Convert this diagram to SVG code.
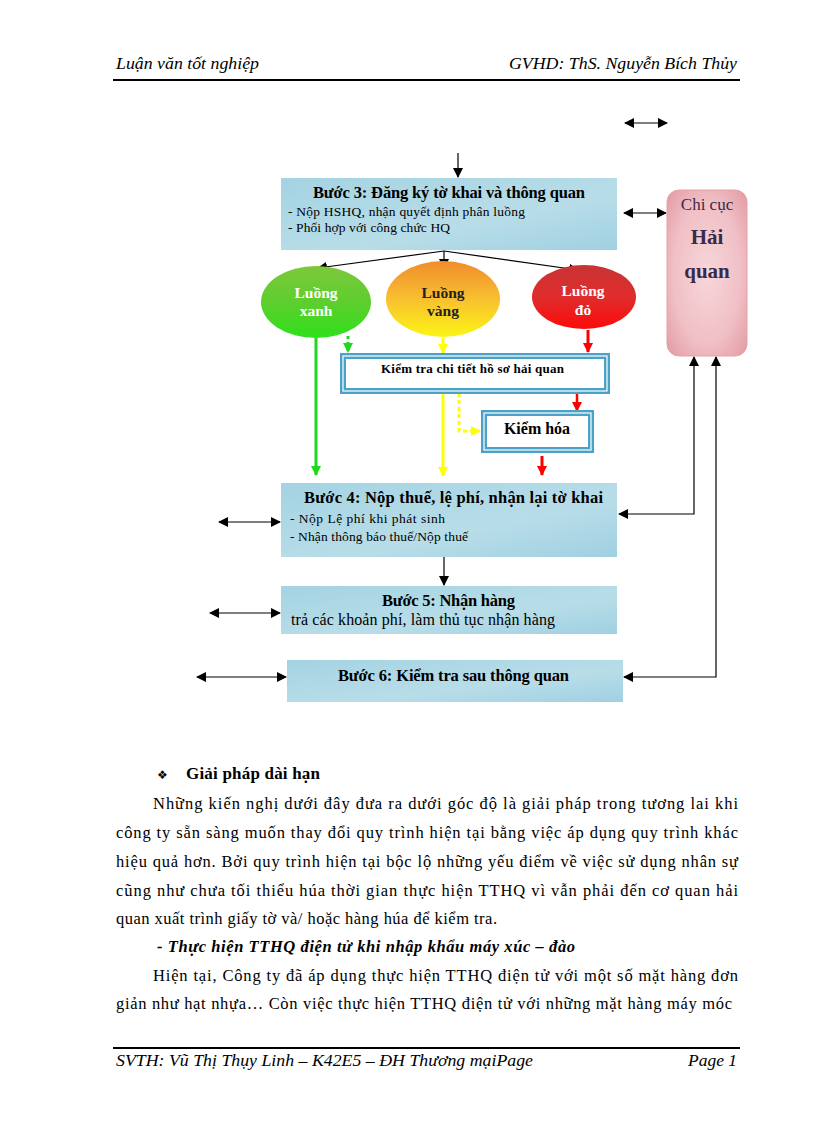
<svg xmlns="http://www.w3.org/2000/svg" width="816" height="1123" viewBox="0 0 816 1123">
<defs>
<linearGradient id="gBlue" x1="0" y1="0" x2="1" y2="1">
<stop offset="0" stop-color="#a4d3e3"/><stop offset="0.6" stop-color="#b8dde8"/><stop offset="1" stop-color="#a0d0e2"/>
</linearGradient>
<radialGradient id="gPink" cx="0.5" cy="0.5" r="0.7">
<stop offset="0" stop-color="#f7d6da"/><stop offset="0.6" stop-color="#f0c0c6"/><stop offset="1" stop-color="#e39aa2"/>
</radialGradient>
<linearGradient id="gGreen" x1="0" y1="0" x2="0" y2="1">
<stop offset="0" stop-color="#7cc83c"/><stop offset="0.5" stop-color="#5ece2e"/><stop offset="1" stop-color="#2ee01c"/>
</linearGradient>
<linearGradient id="gYellow" x1="0" y1="0" x2="0" y2="1">
<stop offset="0" stop-color="#f08c2c"/><stop offset="0.5" stop-color="#f8c030"/><stop offset="1" stop-color="#fcf414"/>
</linearGradient>
<linearGradient id="gRed" x1="0" y1="0" x2="0" y2="1">
<stop offset="0" stop-color="#c83434"/><stop offset="0.5" stop-color="#e02c2c"/><stop offset="1" stop-color="#fc0a0a"/>
</linearGradient>
<marker id="ah" viewBox="0 0 10 10" refX="9" refY="5" markerWidth="10" markerHeight="10" markerUnits="userSpaceOnUse" orient="auto-start-reverse">
<path d="M0,0 L10,5 L0,10 z" fill="#000"/>
</marker>
<marker id="ahG" viewBox="0 0 10 10" refX="9" refY="5" markerWidth="10" markerHeight="10" markerUnits="userSpaceOnUse" orient="auto">
<path d="M0,0 L10,5 L0,10 z" fill="#1ed81e"/>
</marker>
<marker id="ahY" viewBox="0 0 10 10" refX="9" refY="5" markerWidth="10" markerHeight="10" markerUnits="userSpaceOnUse" orient="auto">
<path d="M0,0 L10,5 L0,10 z" fill="#ffff00"/>
</marker>
<marker id="ahR" viewBox="0 0 10 10" refX="9" refY="5" markerWidth="10" markerHeight="10" markerUnits="userSpaceOnUse" orient="auto">
<path d="M0,0 L10,5 L0,10 z" fill="#ff0000"/>
</marker>
</defs>
<style>
.hdr{font-family:"Liberation Serif",serif;font-style:italic;font-size:17px;fill:#000}
.step{fill:url(#gBlue)}
.title{font-family:"Liberation Serif",serif;font-weight:bold;font-size:16.5px;fill:#000}
.sub{font-family:"Liberation Serif",serif;font-size:13.5px;fill:#000}
.sub2{font-family:"Liberation Serif",serif;font-size:16px;fill:#000}
.ell{font-family:"Liberation Serif",serif;font-weight:bold;font-size:15.5px}
.body{font-family:"Liberation Serif",serif;font-size:16.5px;fill:#000}
.blk{stroke:#000;stroke-width:1.2;fill:none}
.dbl{fill:#fff;stroke:#4aa3c6;stroke-width:6}
.dblin{fill:none;stroke:#fff;stroke-width:1.2}
</style>
<rect x="0" y="0" width="816" height="1123" fill="#fff"/>

<g id="header">
<text class="hdr" x="116" y="69" textLength="143" lengthAdjust="spacingAndGlyphs">Luận văn tốt nghiệp</text>
<text class="hdr" x="509" y="69" textLength="228" lengthAdjust="spacingAndGlyphs">GVHD: ThS. Nguyễn Bích Thủy</text>
<line x1="113" y1="80" x2="740" y2="80" stroke="#000" stroke-width="2"/>
</g>

<g id="connectors">
<line class="blk" x1="625" y1="123" x2="667" y2="123" marker-start="url(#ah)" marker-end="url(#ah)"/>
<line class="blk" x1="458" y1="153" x2="458" y2="177" marker-end="url(#ah)"/>
<line class="blk" x1="624" y1="213" x2="666" y2="213" marker-start="url(#ah)" marker-end="url(#ah)"/>
<line class="blk" x1="444" y1="251" x2="318" y2="268" marker-end="url(#ah)"/>
<line class="blk" x1="444" y1="251" x2="444" y2="268" marker-end="url(#ah)"/>
<line class="blk" x1="444" y1="251" x2="578" y2="270" marker-end="url(#ah)"/>
<line x1="316" y1="338" x2="316" y2="475" stroke="#1ed81e" stroke-width="3" marker-end="url(#ahG)"/>
<line x1="348" y1="336" x2="348" y2="352" stroke="#1ed81e" stroke-width="3" stroke-dasharray="3,3" marker-end="url(#ahG)"/>
<line x1="443" y1="338" x2="443" y2="353" stroke="#ffff00" stroke-width="3" marker-end="url(#ahY)"/>
<line x1="588" y1="330" x2="588" y2="352" stroke="#ff0000" stroke-width="3" marker-end="url(#ahR)"/>
<line x1="443" y1="393" x2="443" y2="476" stroke="#ffff00" stroke-width="3" marker-end="url(#ahY)"/>
<polyline points="459,393 459,431 480,431" fill="none" stroke="#ffff00" stroke-width="3" stroke-dasharray="4,3" marker-end="url(#ahY)"/>
<line x1="577" y1="393" x2="577" y2="411" stroke="#ff0000" stroke-width="2.5" marker-end="url(#ahR)"/>
<line x1="542" y1="456" x2="542" y2="475" stroke="#ff0000" stroke-width="3" marker-end="url(#ahR)"/>
<line class="blk" x1="219" y1="522" x2="280" y2="522" marker-start="url(#ah)" marker-end="url(#ah)"/>
<polyline class="blk" points="694,357 694,514 619,514" marker-start="url(#ah)" marker-end="url(#ah)"/>
<polyline class="blk" points="716,357 716,677 624,677" marker-start="url(#ah)" marker-end="url(#ah)"/>
<line class="blk" x1="444" y1="557" x2="444" y2="585" marker-end="url(#ah)"/>
<line class="blk" x1="210" y1="613" x2="280" y2="613" marker-start="url(#ah)" marker-end="url(#ah)"/>
<line class="blk" x1="197" y1="677" x2="286" y2="677" marker-start="url(#ah)" marker-end="url(#ah)"/>
</g>

<g id="step3">
<rect class="step" x="281" y="178" width="336" height="72"/>
<text class="title" x="313" y="198" textLength="272" lengthAdjust="spacing">Bước 3: Đăng ký tờ khai và thông quan</text>
<text class="sub" x="288" y="216" textLength="237" lengthAdjust="spacing">- Nộp HSHQ, nhận quyết định phân luồng</text>
<text class="sub" x="288" y="232" textLength="162" lengthAdjust="spacing">- Phối hợp với công chức HQ</text>
</g>

<g id="chicuc">
<rect x="667" y="190" width="80" height="166" rx="12" fill="url(#gPink)" stroke="#e8a0a8" stroke-width="1"/>
<text x="707" y="210" text-anchor="middle" font-family="Liberation Serif,serif" font-size="17" fill="#3a2a4a">Chi cục</text>
<text x="707" y="244" text-anchor="middle" font-family="Liberation Serif,serif" font-weight="bold" font-size="21" fill="#3a2a4a">Hải</text>
<text x="707" y="278" text-anchor="middle" font-family="Liberation Serif,serif" font-weight="bold" font-size="21" fill="#3a2a4a">quan</text>
</g>

<g id="luong-xanh">
<ellipse cx="316" cy="302" rx="55" ry="36" fill="url(#gGreen)"/>
<text class="ell" x="316" y="298" text-anchor="middle" fill="#fff">Luồng</text>
<text class="ell" x="316" y="316" text-anchor="middle" fill="#fff">xanh</text>
</g>
<g id="luong-vang">
<ellipse cx="443" cy="299" rx="57" ry="38" fill="url(#gYellow)"/>
<text class="ell" x="443" y="298" text-anchor="middle" fill="#222">Luồng</text>
<text class="ell" x="443" y="316" text-anchor="middle" fill="#222">vàng</text>
</g>
<g id="luong-do">
<ellipse cx="584" cy="297" rx="52" ry="32" fill="url(#gRed)"/>
<text class="ell" x="583" y="296" text-anchor="middle" fill="#fff">Luồng</text>
<text class="ell" x="583" y="315" text-anchor="middle" fill="#fff">đỏ</text>
</g>

<g id="kiemtra">
<rect class="dbl" x="343" y="356" width="264" height="35"/>
<rect class="dblin" x="343" y="356" width="264" height="35"/>
<text x="381" y="373" textLength="183" lengthAdjust="spacing" font-family="Liberation Serif,serif" font-weight="bold" font-size="13">Kiểm  tra chi tiết hồ sơ hải quan</text>
</g>

<g id="kiemhoa">
<rect class="dbl" x="484" y="413" width="107" height="37"/>
<rect class="dblin" x="484" y="413" width="107" height="37"/>
<text x="537" y="434" text-anchor="middle" font-family="Liberation Serif,serif" font-weight="bold" font-size="16">Kiểm hóa</text>
</g>

<g id="step4">
<rect class="step" x="281" y="483" width="336" height="74"/>
<text class="title" x="304" y="503" textLength="299" lengthAdjust="spacing">Bước 4: Nộp thuế, lệ phí, nhận lại tờ khai</text>
<text class="sub" x="290" y="523" textLength="155" lengthAdjust="spacing">- Nộp Lệ phí khi phát sinh</text>
<text class="sub" x="290" y="541" textLength="178" lengthAdjust="spacing">- Nhận thông báo thuế/Nộp thuế</text>
</g>

<g id="step5">
<rect class="step" x="281" y="586" width="336" height="48"/>
<text class="title" x="382" y="606" textLength="133" lengthAdjust="spacing">Bước 5: Nhận hàng</text>
<text class="sub2" x="291" y="625" textLength="264" lengthAdjust="spacing">trả các khoản phí, làm thủ tục nhận hàng</text>
</g>

<g id="step6">
<rect class="step" x="287" y="660" width="336" height="42"/>
<text class="title" x="338" y="681" textLength="231" lengthAdjust="spacing">Bước 6: Kiểm tra sau thông quan</text>
</g>

<g id="body">
<text x="157" y="779" font-family="DejaVu Sans,sans-serif" font-size="12">❖</text>
<text x="186" y="779" font-family="Liberation Serif,serif" font-weight="bold" font-size="17" textLength="134" lengthAdjust="spacing">Giải pháp  dài hạn</text>
<text class="body" x="153" y="809" textLength="585" lengthAdjust="spacing">Những kiến nghị dưới đây đưa ra dưới góc độ là giải pháp trong tương lai khi</text>
<text class="body" x="116" y="838" textLength="622" lengthAdjust="spacing">công ty sẵn sàng muốn thay đổi quy trình hiện tại bằng việc áp dụng quy trình khác</text>
<text class="body" x="116" y="867" textLength="622" lengthAdjust="spacing">hiệu quả hơn. Bởi quy trình hiện tại bộc lộ những yếu điểm về việc sử dụng nhân sự</text>
<text class="body" x="116" y="896" textLength="622" lengthAdjust="spacing">cũng như chưa tối thiểu húa thời gian thực hiện TTHQ vì vẫn phải đến cơ quan hải</text>
<text class="body" x="116" y="924" textLength="381" lengthAdjust="spacing">quan xuất trình giấy tờ và/ hoặc hàng húa để kiểm tra.</text>
<text x="157" y="952" textLength="418" lengthAdjust="spacing" font-family="Liberation Serif,serif" font-weight="bold" font-style="italic" font-size="16.5">- Thực hiện TTHQ  điện tử khi nhập khẩu máy xúc – đào</text>
<text class="body" x="153" y="981" textLength="585" lengthAdjust="spacing">Hiện tại, Công ty đã áp dụng thực hiện TTHQ điện tử với một số mặt hàng đơn</text>
<text class="body" x="116" y="1009" textLength="616" lengthAdjust="spacing">giản như hạt nhựa…  Còn việc thực hiện TTHQ  điện tử với những mặt hàng máy móc</text>
</g>

<g id="footer">
<line x1="113" y1="1048" x2="740" y2="1048" stroke="#000" stroke-width="2"/>
<text class="hdr" x="116" y="1066" textLength="417" lengthAdjust="spacingAndGlyphs">SVTH: Vũ Thị Thụy Linh – K42E5 – ĐH Thương mạiPage</text>
<text class="hdr" x="688" y="1066" textLength="49" lengthAdjust="spacingAndGlyphs">Page 1</text>
</g>
</svg>
